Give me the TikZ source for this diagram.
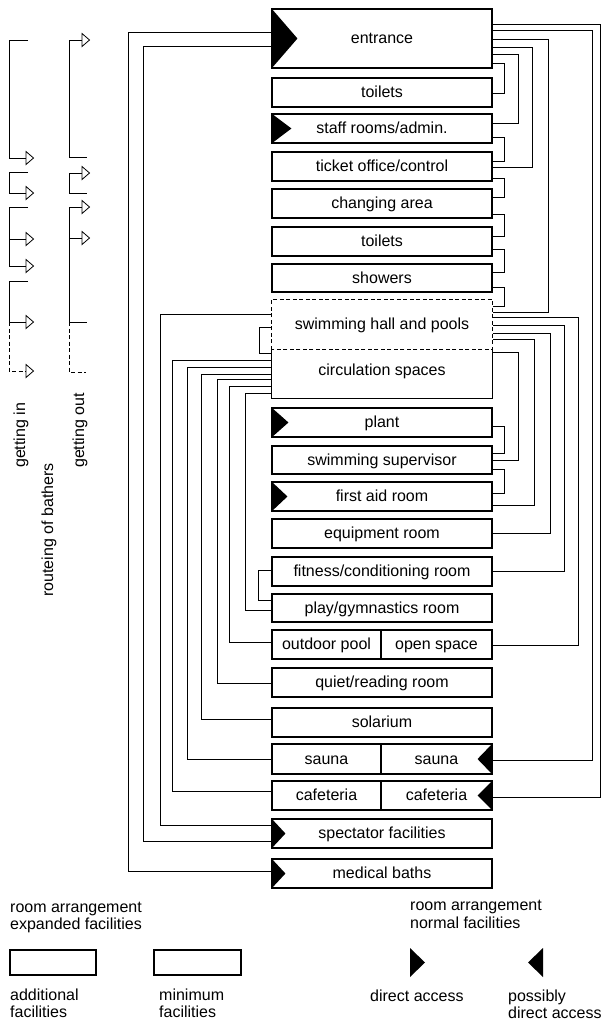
\documentclass[tikz,border=0pt]{standalone}
\usepackage{fontspec}
\setmainfont{Liberation Sans}
\newcommand\rc[5]{\draw[conn] (#1.east |- 0,#2) -| (#3,#5) -- (#4.east |- 0,#5);}
\newcommand\lc[5]{\draw[conn] (#1.west |- 0,#2) -| (#3,#5) -- (#4.west |- 0,#5);}
\newcommand\da[2]{\fill (#1.north west) -- ([xshift=#2pt]#1.west) -- (#1.south west) -- cycle;}
\newcommand\pa[1]{\fill (#1.north east) -- ([xshift=-15pt]#1.east) -- (#1.south east) -- cycle;}
\newcommand\inarr[2]{\draw[conn,fill=white] (#1,#2-6.5) -- (#1+7.5,#2) -- (#1,#2+6.5) -- cycle;}
\begin{document}
\begin{tikzpicture}[x=1pt,y=-1pt,font=\fontsize{16}{18}\selectfont,
  room/.style={draw,line width=1.1pt,minimum width=220pt,inner sep=0pt,text height=12pt,text depth=2pt},
  lroom/.style={room,minimum width=109pt},
  rroom/.style={room,minimum width=111pt},
  conn/.style={line width=0.8pt},
  lbl/.style={inner sep=0pt,anchor=base west}]
\useasboundingbox (0,0) rectangle (603,1021);

% main column
\node[room,minimum height=59pt] (entrance) at (382,38.5) {entrance};
\node[room,minimum height=29pt] (toilA) at (382,92.5) {toilets};
\node[room,minimum height=29pt] (staff) at (382,128.5) {staff rooms/admin.};
\node[room,minimum height=29pt] (ticket) at (382,166.5) {ticket office/control};
\node[room,minimum height=29pt] (changing) at (382,203.5) {changing area};
\node[room,minimum height=29pt] (toilB) at (382,241.5) {toilets};
\node[room,minimum height=28pt] (showers) at (382,278) {showers};
\node[room,draw=none,minimum height=49pt] (swim) at (382,324.5) {swimming hall and pools};
\node[room,draw=none,minimum height=49pt] (circ) at (382,373.5) {};
\node[inner sep=0pt,text height=12pt,text depth=2pt] (circtext) at (382,370) {circulation spaces};
\draw[line width=1.1pt,dash pattern=on 4pt off 2.5pt] (swim.south west) -- (swim.north west) -- (swim.north east) -- (swim.south east) -- cycle;
\draw[line width=1.1pt] (circ.north west) -- (circ.south west) -- (circ.south east) -- (circ.north east);
\node[room,minimum height=29pt] (plant) at (382,422.5) {plant};
\node[room,minimum height=28pt] (superv) at (382,460) {swimming supervisor};
\node[room,minimum height=29pt] (firstaid) at (382,496.5) {first aid room};
\node[room,minimum height=29pt] (equip) at (382,533.5) {equipment room};
\node[room,minimum height=29pt] (fitness) at (382,571.5) {fitness/conditioning room};
\node[room,minimum height=28pt] (play) at (382,608) {play/gymnastics room};
\node[lroom,minimum height=29pt] (outdoor) at (326.5,644.5) {outdoor pool};
\node[rroom,minimum height=29pt] (open) at (436.5,644.5) {open space};
\node[room,minimum height=29pt] (quiet) at (382,682.5) {quiet/reading room};
\node[room,minimum height=29pt] (solar) at (382,722.5) {solarium};
\node[lroom,minimum height=30pt] (sauna1) at (326.5,759) {sauna};
\node[rroom,minimum height=30pt] (sauna2) at (436.5,759) {sauna};
\node[lroom,minimum height=29pt] (cafe1) at (326.5,795.5) {cafeteria};
\node[rroom,minimum height=29pt] (cafe2) at (436.5,795.5) {cafeteria};
\node[room,minimum height=29pt] (spect) at (382,833.5) {spectator facilities};
\node[room,minimum height=29pt] (medical) at (382,873.5) {medical baths};

% direct access marks
\da{entrance}{26}
\da{staff}{20}
\da{plant}{17}
\da{firstaid}{16}
\da{spect}{14}
\da{medical}{14}
\pa{sauna2}
\pa{cafe2}

% right connectors
\rc{entrance}{24}{600}{cafe2}{797}
\rc{entrance}{30}{592}{sauna2}{760}
\rc{entrance}{39}{548}{swim}{312}
\rc{entrance}{47}{532}{ticket}{167}
\rc{entrance}{54}{518}{staff}{123}
\rc{entrance}{63}{504}{toilA}{93}
\rc{staff}{137}{504}{ticket}{161}
\rc{ticket}{178}{504}{changing}{197}
\rc{changing}{214}{504}{toilB}{236}
\rc{toilB}{249}{504}{showers}{272}
\rc{showers}{287}{504}{swim}{306}
\rc{swim}{317}{578}{open}{645}
\rc{swim}{325}{564}{fitness}{571}
\rc{swim}{333}{550}{equip}{533}
\rc{swim}{339}{534}{firstaid}{505}
\rc{circ}{352}{518}{superv}{460}
\rc{plant}{426}{504}{superv}{453}
\rc{superv}{469}{504}{firstaid}{493}

% left connectors
\lc{entrance}{32}{128}{medical}{871}
\lc{entrance}{46}{143}{spect}{841}
\lc{swim}{314}{160}{spect}{825}
\lc{circ}{360}{172}{cafe1}{791}
\lc{circ}{367}{187}{sauna1}{759}
\lc{circ}{374}{201}{solar}{719}
\lc{circ}{379}{217}{quiet}{683}
\lc{circ}{386}{229}{outdoor}{642}
\lc{circ}{393}{245}{play}{610}
\lc{swim}{327}{259}{circ}{353}
\lc{fitness}{570}{258}{play}{600}

% routeing of bathers: getting in
\draw[conn] (28,40) -- (9,40) -- (9,158) -- (26,158);
\draw[conn] (28,172) -- (9,172) -- (9,193) -- (26,193);
\draw[conn] (28,207) -- (9,207) -- (9,266) -- (26,266);
\draw[conn] (9,239) -- (26,239);
\draw[conn] (28,281) -- (9,281) -- (9,322) -- (26,322);
\draw[conn,dash pattern=on 4pt off 2.5pt] (9,322) -- (9,371) -- (26,371);
\inarr{26}{158}\inarr{26}{193}\inarr{26}{239}\inarr{26}{266}\inarr{26}{322}\inarr{26}{371}
% getting out
\draw[conn] (82,40) -- (69,40) -- (69,157) -- (87,157);
\draw[conn] (82,173) -- (69,173) -- (69,193) -- (87,193);
\draw[conn] (82,207) -- (69,207) -- (69,322) -- (87,322);
\draw[conn] (69,238) -- (82,238);
\draw[conn,dash pattern=on 4pt off 2.5pt] (69,322) -- (69,372) -- (86,372);
\inarr{82}{40}\inarr{82}{173}\inarr{82}{207}\inarr{82}{238}

\node[lbl,rotate=90] (gin) at (25,468) {getting in};
\node[lbl,rotate=90] (gout) at (84,468) {getting out};
\node[lbl,rotate=90] (rout) at (53,597) {routeing of bathers};

% legend
\node[lbl] (la1) at (10,912) {room arrangement};
\node[lbl] (la2) at (10,929) {expanded facilities};
\node[lbl] (lb1) at (410,910) {room arrangement};
\node[lbl] (lb2) at (410,928) {normal facilities};
\node[draw,line width=1.1pt,minimum width=86pt,minimum height=25pt,inner sep=0pt] (addbox) at (53,962.5) {};
\node[draw,line width=1.1pt,minimum width=87pt,minimum height=25pt,inner sep=0pt] (minbox) at (197.5,962.5) {};
\node[lbl] (add1) at (10,1000) {additional};
\node[lbl] (add2) at (10,1017) {facilities};
\node[lbl] (min1) at (159,1000) {minimum};
\node[lbl] (min2) at (159,1017) {facilities};
\fill (410,948) -- (425,962.5) -- (410,977) -- cycle;
\fill (543,948) -- (528,962.5) -- (543,977) -- cycle;
\node[lbl] (da) at (370,1001) {direct access};
\node[lbl] (pda1) at (508,1001) {possibly};
\node[lbl] (pda2) at (508,1018) {direct access};
\end{tikzpicture}
\end{document}
